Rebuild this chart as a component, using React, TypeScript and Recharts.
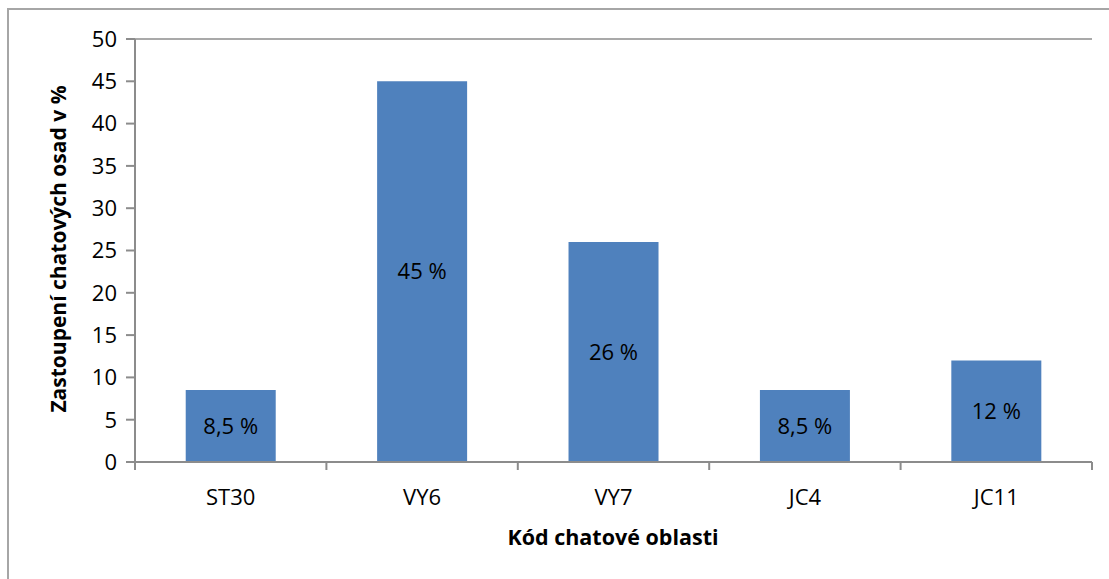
import React from 'react';
import { BarChart, Bar, XAxis, YAxis, CartesianGrid, LabelList, Label } from 'recharts';

const categories = ['ST30', 'VY6', 'VY7', 'JC4', 'JC11'];
const values = [8.5, 45, 26, 8.5, 12];
const valueLabels = ['8,5 %', '45 %', '26 %', '8,5 %', '12 %'];
const yTicks = [0, 5, 10, 15, 20, 25, 30, 35, 40, 45, 50];

const data = categories.map((c, i) => ({ name: c, value: values[i], label: valueLabels[i] }));

const W = 1109;
const H = 579;
const PLOT_LEFT = 135;
const PLOT_RIGHT = 1092;
const PLOT_TOP = 39;
const PLOT_BOTTOM = 462;
const BAND = (PLOT_RIGHT - PLOT_LEFT) / categories.length;
const FONT = '"Open Sans", sans-serif';
const GRID = '#8c8c8c';

const CatTick = (props: any) => {
  const { x, y, payload, index } = props;
  return (
    <g>
      <line x1={x - BAND / 2} x2={x - BAND / 2} y1={y} y2={y + 8} stroke={GRID} strokeWidth={2} />
      {index === categories.length - 1 && (
        <line x1={x + BAND / 2} x2={x + BAND / 2} y1={y} y2={y + 8} stroke={GRID} strokeWidth={2} />
      )}
      <text x={x} y={y + 43} textAnchor="middle" fontFamily={FONT} fontSize={22} fill="#000">
        {payload.value}
      </text>
    </g>
  );
};

export default function App() {
  return (
    <div style={{ position: 'absolute', left: 0, top: 0, width: W, height: H, overflow: 'hidden', background: '#fff' }}>
      <div style={{ position: 'absolute', left: 7, top: 8, width: 1200, height: 700, border: '2px solid #a6a6a6' }} />
      <div style={{ position: 'absolute', left: 0, top: 0 }}>
        <BarChart
          width={W}
          height={H}
          data={data}
          margin={{ top: PLOT_TOP, right: W - PLOT_RIGHT, bottom: 0, left: 0 }}
          barCategoryGap="26.5%"
        >
          <CartesianGrid vertical={false} stroke={GRID} strokeWidth={1.5} />
          <XAxis
            dataKey="name"
            height={H - PLOT_BOTTOM}
            tickLine={false}
            tickSize={0}
            tickMargin={0}
            axisLine={{ stroke: GRID, strokeWidth: 2 }}
            tick={<CatTick />}
            interval={0}
          >
            <Label
              content={() => (
                <text x={613} y={545} textAnchor="middle" fontFamily={FONT} fontWeight="bold" fontSize={21.5} fill="#000">
                  Kód chatové oblasti
                </text>
              )}
            />
          </XAxis>
          <YAxis
            yAxisId="left"
            width={PLOT_LEFT}
            domain={[0, 50]}
            ticks={yTicks}
            interval={0}
            tickSize={9}
            tickMargin={9}
            tickLine={{ stroke: GRID, strokeWidth: 2 }}
            axisLine={{ stroke: GRID, strokeWidth: 2 }}
            tick={{ fontFamily: FONT, fontSize: 22, fill: '#000' }}
          >
            <Label
              content={() => (
                <text
                  x={66}
                  y={249}
                  transform="rotate(-90 66 249)"
                  textAnchor="middle"
                  fontFamily={FONT}
                  fontWeight="bold"
                  fontSize={21}
                  fill="#000"
                >
                  Zastoupení chatových osad v %
                </text>
              )}
            />
          </YAxis>
          <YAxis
            yAxisId="right"
            orientation="right"
            width={0}
            domain={[0, 50]}
            tick={false}
            tickLine={false}
            axisLine={{ stroke: GRID, strokeWidth: 2 }}
          />
          <Bar yAxisId="left" dataKey="value" fill="#4f81bd" isAnimationActive={false}>
            <LabelList dataKey="label" position="center" fontFamily={FONT} fontSize={22} fill="#000" />
          </Bar>
        </BarChart>
      </div>
    </div>
  );
}
